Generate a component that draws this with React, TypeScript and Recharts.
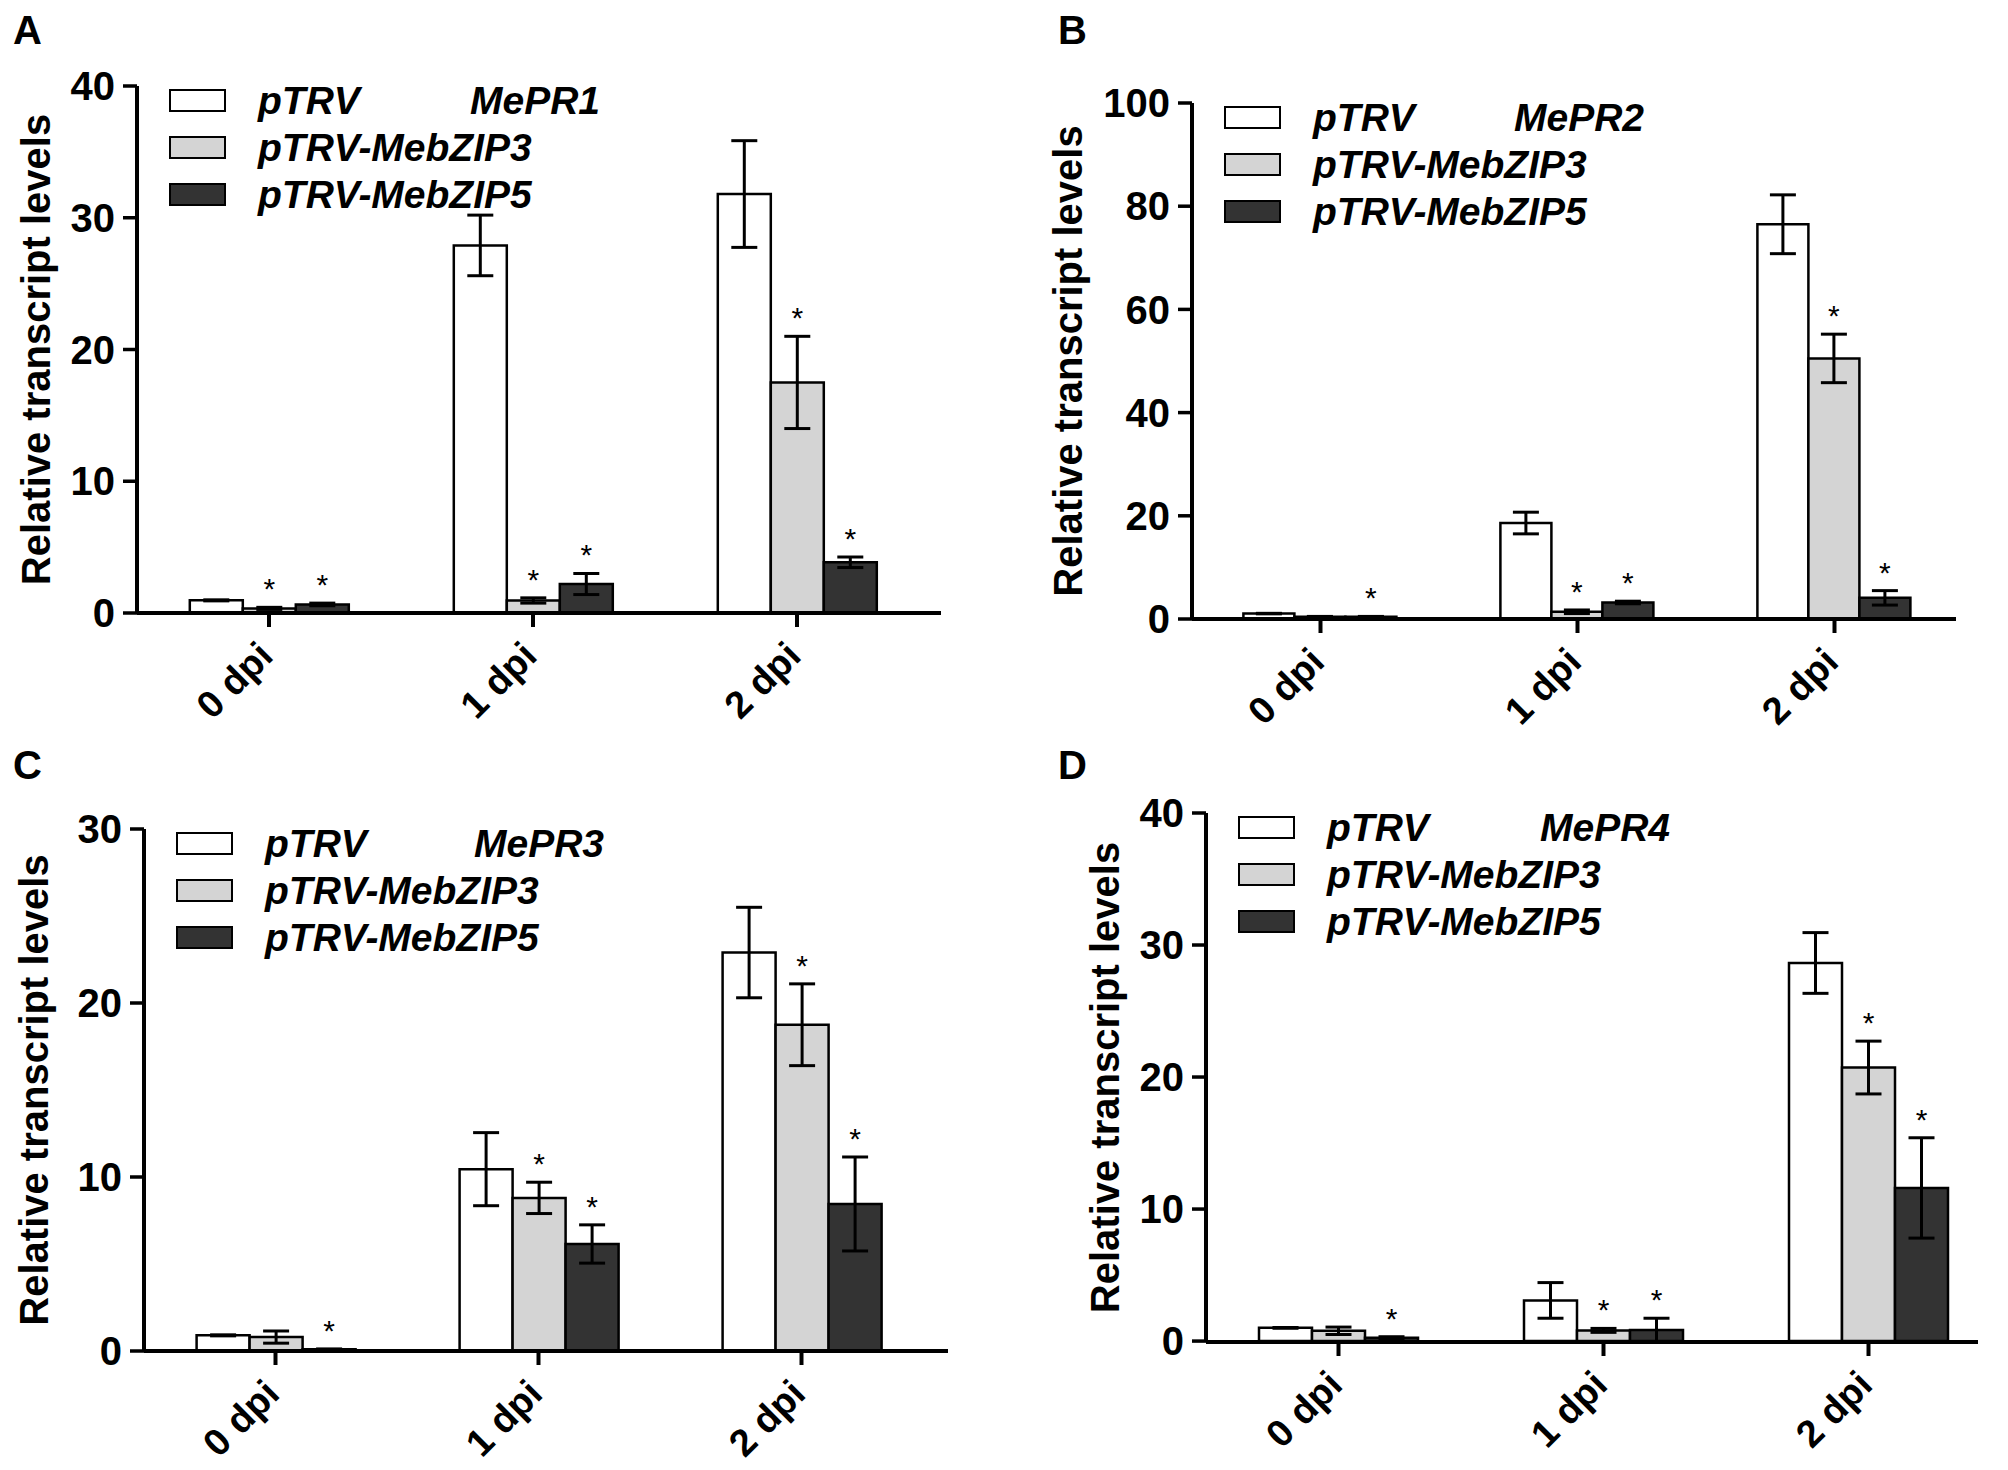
import React from 'react';
import { BarChart, Bar, XAxis, YAxis, ErrorBar, LabelList } from 'recharts';

const FONT = '"Liberation Sans", Arial, Helvetica, sans-serif';

const categories = ['0 dpi', '1 dpi', '2 dpi'];
const seriesNames = ['pTRV', 'pTRV-MebZIP3', 'pTRV-MebZIP5'];
const seriesFills = ['#ffffff', '#d4d4d4', '#333333'];

// rows: pTRV, pTRV-MebZIP3, pTRV-MebZIP5 ; columns: 0, 1, 2 dpi
const pr1Mean = [[0.96, 27.9, 31.8], [0.35, 0.95, 17.5], [0.65, 2.2, 3.85]];
const pr1Err = [[0.04, 2.3, 4.05], [0.08, 0.2, 3.5], [0.1, 0.8, 0.4]];
const pr1Star = [[false, false, false], [true, true, true], [true, true, true]];
const pr1Ticks = [0, 10, 20, 30, 40];

const pr2Mean = [[1.05, 18.6, 76.5], [0.45, 1.4, 50.5], [0.45, 3.2, 4.1]];
const pr2Err = [[0.05, 2.1, 5.7], [0.05, 0.35, 4.7], [0.05, 0.25, 1.4]];
const pr2Star = [[false, false, false], [false, true, true], [true, true, true]];
const pr2Ticks = [0, 20, 40, 60, 80, 100];

const pr3Mean = [[0.9, 10.45, 22.9], [0.8, 8.8, 18.75], [0.1, 6.15, 8.45]];
const pr3Err = [[0.03, 2.1, 2.6], [0.35, 0.9, 2.35], [0.02, 1.1, 2.7]];
const pr3Star = [[false, false, false], [false, true, true], [true, true, true]];
const pr3Ticks = [0, 10, 20, 30];

const pr4Mean = [[1.0, 3.08, 28.64], [0.78, 0.81, 20.72], [0.25, 0.83, 11.6]];
const pr4Err = [[0.03, 1.35, 2.3], [0.28, 0.15, 2.0], [0.08, 0.9, 3.8]];
const pr4Star = [[false, false, false], [false, true, true], [true, true, true]];
const pr4Ticks = [0, 10, 20, 30, 40];

// page layout of each panel (px)
const panels = [
  { letter: 'A', gene: 'MePR1', mean: pr1Mean, err: pr1Err, star: pr1Star, ticks: pr1Ticks,
    left: 0, top: 0, axisX: 137, topY: 86, zeroY: 613, band: 264, axisEnd: 941, labelX: 50, geneX: 333 },
  { letter: 'B', gene: 'MePR2', mean: pr2Mean, err: pr2Err, star: pr2Star, ticks: pr2Ticks,
    left: 1004, top: 0, axisX: 1192, topY: 103, zeroY: 619, band: 257, axisEnd: 1956, labelX: 78, geneX: 322 },
  { letter: 'C', gene: 'MePR3', mean: pr3Mean, err: pr3Err, star: pr3Star, ticks: pr3Ticks,
    left: 0, top: 735, axisX: 144, topY: 829, zeroY: 1351, band: 263, axisEnd: 948, labelX: 48, geneX: 330 },
  { letter: 'D', gene: 'MePR4', mean: pr4Mean, err: pr4Err, star: pr4Star, ticks: pr4Ticks,
    left: 1004, top: 735, axisX: 1206, topY: 813, zeroY: 1342, band: 265, axisEnd: 1978, labelX: 115, geneX: 334 },
];

const W = 1004;
const H = 735;
const YW = 120;
const XH = 100;

function XTick(props: any) {
  const { x, y, payload } = props;
  return (
    <g transform={`translate(${x},${y})`}>
      <text
        transform="translate(6,31) rotate(-45)"
        textAnchor="end"
        fontFamily={FONT}
        fontWeight="bold"
        fontSize={38}
        fill="#000"
      >
        {payload.value}
      </text>
    </g>
  );
}

function starContent(mean: number[], err: number[], star: boolean[]) {
  return (props: any) => {
    const { index } = props;
    if (!star[index]) return null;
    const x = Number(props.x);
    const y = Number(props.y);
    const w = Number(props.width);
    const h = Number(props.height);
    const perUnit = h / mean[index];
    const errTop = y - err[index] * perUnit;
    return (
      <text x={x + w / 2} y={errTop - 8} textAnchor="middle" fontFamily={FONT} fontSize={30} fill="#000">
        *
      </text>
    );
  };
}

function Panel({ p }: { p: (typeof panels)[number] }) {
  const rows = categories.map((c, j) => ({
    cat: c,
    s0: p.mean[0][j], s1: p.mean[1][j], s2: p.mean[2][j],
    e0: p.err[0][j], e1: p.err[1][j], e2: p.err[2][j],
  }));
  const axisRel = p.axisX - p.left;
  const topRel = p.topY - p.top;
  const zeroRel = p.zeroY - p.top;
  const plotRight = p.axisEnd - p.left;
  const bandEnd = axisRel + 3 * p.band;
  const margin = {
    left: axisRel - YW,
    top: topRel,
    right: W - plotRight,
    bottom: H - XH - zeroRel,
  };
  const ymax = p.ticks[p.ticks.length - 1];
  const midY = (topRel + zeroRel) / 2;

  return (
    <div style={{ position: 'absolute', left: p.left, top: p.top, width: W, height: H }}>
      <BarChart width={W} height={H} data={rows} margin={margin} barCategoryGap="20%" barGap={0}>
        <XAxis
          dataKey="cat"
          interval={0}
          height={XH}
          padding={{ left: 0, right: plotRight - bandEnd }}
          tickSize={14}
          tickMargin={0}
          axisLine={{ stroke: '#000', strokeWidth: 4 }}
          tickLine={{ stroke: '#000', strokeWidth: 4 }}
          tick={<XTick />}
        />
        <YAxis
          width={YW}
          domain={[0, ymax]}
          ticks={p.ticks}
          interval={0}
          tickSize={14}
          tickMargin={8}
          axisLine={{ stroke: '#000', strokeWidth: 4 }}
          tickLine={{ stroke: '#000', strokeWidth: 3.5 }}
          tick={{ fontFamily: FONT, fontWeight: 'bold', fontSize: 40, fill: '#000' }}
          label={{
            content: () => (
              <text
                transform={`translate(${p.labelX},${midY}) rotate(-90)`}
                textAnchor="middle"
                fontFamily={FONT}
                fontWeight="bold"
                fontSize={40}
                fill="#000"
              >
                Relative transcript levels
              </text>
            ),
          }}
        />
        {seriesNames.map((name, i) => (
          <Bar
            key={name}
            dataKey={`s${i}`}
            name={name}
            fill={seriesFills[i]}
            stroke="#000"
            strokeWidth={2.5}
            isAnimationActive={false}
          >
            <ErrorBar dataKey={`e${i}`} width={13} stroke="#000" strokeWidth={3} direction="y" isAnimationActive={false} />
            <LabelList dataKey={`s${i}`} content={starContent(p.mean[i], p.err[i], p.star[i])} />
          </Bar>
        ))}
      </BarChart>

      {/* legend */}
      <div
        style={{
          position: 'absolute',
          left: axisRel + 32,
          top: topRel + 14 - 23.5,
          fontFamily: FONT,
          fontWeight: 'bold',
          fontStyle: 'italic',
          fontSize: 39,
          color: '#000',
        }}
      >
        {seriesNames.map((name, i) => (
          <div key={name} style={{ height: 47, display: 'flex', alignItems: 'center', position: 'relative' }}>
            <div
              style={{
                width: 53,
                height: 19,
                border: '2.5px solid #000',
                background: seriesFills[i],
                marginRight: 32,
              }}
            />
            <span style={{ lineHeight: '47px', whiteSpace: 'nowrap' }}>{name}</span>
            {i === 0 && (
              <span style={{ position: 'absolute', left: p.geneX - 32, top: 0, lineHeight: '47px' }}>{p.gene}</span>
            )}
          </div>
        ))}
      </div>

      <div
        style={{
          position: 'absolute',
          left: p.letter === 'A' || p.letter === 'C' ? 13 : 54,
          top: 10,
          fontFamily: FONT,
          fontWeight: 'bold',
          fontSize: 40,
          lineHeight: '40px',
          color: '#000',
        }}
      >
        {p.letter}
      </div>
    </div>
  );
}

export default function App() {
  return (
    <div style={{ position: 'absolute', left: 0, top: 0, width: 2008, height: 1470, background: '#fff' }}>
      {panels.map((p) => (
        <Panel key={p.letter} p={p} />
      ))}
    </div>
  );
}
